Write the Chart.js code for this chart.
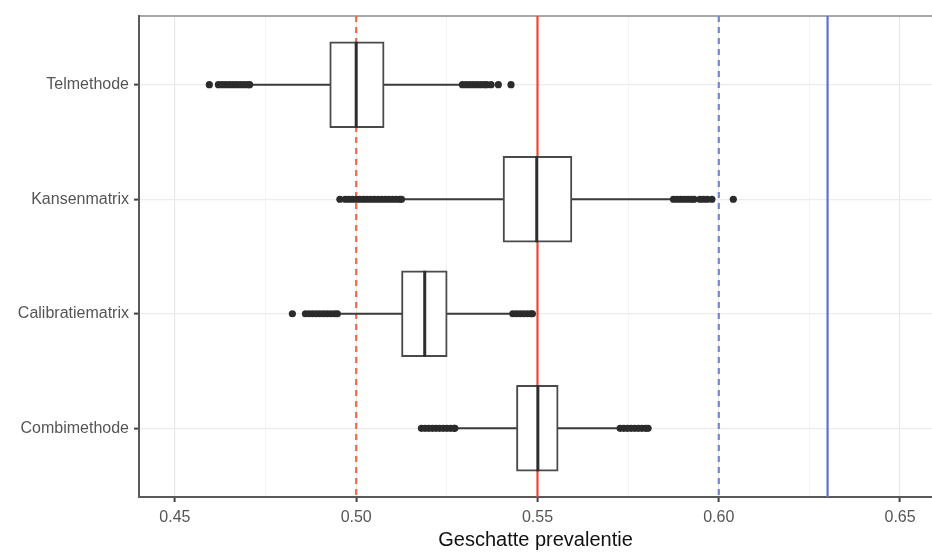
<!DOCTYPE html>
<html>
<head>
<meta charset="utf-8">
<script src="https://cdn.jsdelivr.net/npm/chart.js@4/dist/chart.umd.min.js"></script>
<style>
  body { margin: 0; background: #fff; }
  canvas { display: block; }
</style>
</head>
<body>
<canvas id="chart" width="932" height="552"></canvas>
<script>
// categorieen (van boven naar beneden)
const categories = ["Telmethode", "Kansenmatrix", "Calibratiematrix", "Combimethode"];

const whiskerLow  = [0.4712, 0.5128, 0.4952, 0.5276];
const q1          = [0.4927, 0.5405, 0.5125, 0.5442];
const medians     = [0.5000, 0.5498, 0.5189, 0.5501];
const q3          = [0.5077, 0.5595, 0.5251, 0.5557];
const whiskerHigh = [0.5288, 0.5870, 0.5428, 0.5725];

// uitschieters per categorie
const outliersTel = [0.4595, 0.4620, 0.4630, 0.4640, 0.4650, 0.4660, 0.4670, 0.4680, 0.4690, 0.4700, 0.4706,
                     0.5293, 0.5303, 0.5313, 0.5323, 0.5333, 0.5343, 0.5353, 0.5360, 0.5372, 0.5392, 0.5427];
const outliersKans = [0.4955, 0.4970, 0.4980, 0.4990, 0.5000, 0.5010, 0.5020, 0.5030, 0.5040, 0.5050, 0.5060,
                      0.5070, 0.5080, 0.5090, 0.5100, 0.5110, 0.5120, 0.5125,
                      0.5875, 0.5885, 0.5895, 0.5905, 0.5915, 0.5925, 0.5932, 0.5948, 0.5958, 0.5968, 0.5981, 0.6040];
const outliersCal = [0.4824, 0.4860, 0.4870, 0.4880, 0.4890, 0.4900, 0.4910, 0.4920, 0.4930, 0.4940, 0.4948,
                     0.5432, 0.5442, 0.5452, 0.5462, 0.5472, 0.5482, 0.5486];
const outliersComb = [0.5180, 0.5190, 0.5200, 0.5210, 0.5220, 0.5230, 0.5240, 0.5250, 0.5260, 0.5270, 0.5272,
                      0.5728, 0.5738, 0.5748, 0.5758, 0.5768, 0.5778, 0.5788, 0.5798, 0.5805];
const outliers = [outliersTel, outliersKans, outliersCal, outliersComb];

// verticale referentielijnen
const refValues = [0.50, 0.55, 0.60, 0.63];
const refColors = ["#F26A48", "#EC4A2E", "#7385D9", "#5F72CE"];
const refDashes = [[6, 5], [], [6, 5], []];

// x-as ticks
const xTicks = [0.45, 0.475, 0.50, 0.525, 0.55, 0.575, 0.60, 0.625, 0.65];
const xMajor = [0.45, 0.50, 0.55, 0.60, 0.65];

const boxHalf = 0.375;
const isMajor = v => xMajor.some(m => Math.abs(m - v) < 1e-6);

let datasets = [];

// referentielijnen (onderop)
for (let i = 0; i < refValues.length; i++) {
    datasets.push({
        type: "scatter",
        showLine: true,
        data: [{x: refValues[i], y: 0.4}, {x: refValues[i], y: 4.6}],
        borderColor: refColors[i],
        borderWidth: 2.2,
        borderDash: refDashes[i],
        pointRadius: 0,
        order: 10
    });
}

// snorharen
for (let i = 0; i < categories.length; i++) {
    datasets.push({
        type: "scatter",
        showLine: true,
        data: [{x: whiskerLow[i], y: i + 1}, {x: whiskerHigh[i], y: i + 1}],
        borderColor: "#3a3a3a",
        borderWidth: 2,
        pointRadius: 0,
        order: 8
    });
}

// dozen
datasets.push({
    type: "bar",
    indexAxis: "y",
    data: categories.map((c, i) => ({x: [q1[i], q3[i]], y: i + 1})),
    backgroundColor: "#ffffff",
    borderColor: "#4a4a4a",
    borderWidth: 2,
    borderSkipped: false,
    barThickness: 86,
    order: 6
});

// medianen
for (let i = 0; i < categories.length; i++) {
    datasets.push({
        type: "scatter",
        showLine: true,
        data: [{x: medians[i], y: i + 1 - boxHalf}, {x: medians[i], y: i + 1 + boxHalf}],
        borderColor: "#2e2e2e",
        borderWidth: 3,
        pointRadius: 0,
        order: 4
    });
}

// uitschieters
for (let i = 0; i < categories.length; i++) {
    datasets.push({
        type: "scatter",
        data: outliers[i].map(v => ({x: v, y: i + 1})),
        backgroundColor: "#2b2b2b",
        borderWidth: 0,
        pointRadius: 3.6,
        order: 2
    });
}

new Chart(document.getElementById("chart"), {
    type: "scatter",
    data: {datasets: datasets},
    options: {
        responsive: false,
        devicePixelRatio: 1,
        animation: false,
        layout: {padding: 0, autoPadding: false},
        plugins: {
            legend: {display: false},
            tooltip: {enabled: false}
        },
        scales: {
            x: {
                type: "linear",
                position: "bottom",
                min: 0.4401,
                max: 0.6588,
                offset: false,
                afterBuildTicks: s => { s.ticks = xTicks.map(v => ({value: v})); },
                afterFit: s => { s.height = 55; },
                ticks: {
                    padding: 6,
                    color: "#555555",
                    font: {family: "Liberation Sans, Arial", size: 16},
                    callback: v => isMajor(v) ? v.toFixed(2) : ""
                },
                grid: {
                    offset: false,
                    color: c => isMajor(c.tick.value) ? "#e8e8e8" : "#f1f1f1",
                    lineWidth: c => isMajor(c.tick.value) ? 1.2 : 0.8,
                    tickColor: c => isMajor(c.tick.value) ? "#444444" : "rgba(0,0,0,0)",
                    tickLength: 5,
                    tickWidth: 2
                },
                border: {color: "#5a5a5a", width: 2},
                title: {
                    display: true,
                    text: "Geschatte prevalentie",
                    color: "#111111",
                    font: {family: "Liberation Sans, Arial", size: 20},
                    padding: {top: 0, bottom: 0}
                }
            },
            x2: {
                type: "linear",
                position: "top",
                min: 0.4401,
                max: 0.6588,
                afterFit: s => { s.height = 16; },
                ticks: {display: false},
                grid: {display: false, drawTicks: false},
                border: {color: "#a8a8a8", width: 2}
            },
            y: {
                type: "linear",
                reverse: true,
                min: 0.4,
                max: 4.6,
                offset: false,
                afterBuildTicks: s => { s.ticks = categories.map((c, i) => ({value: i + 1})); },
                afterFit: s => { s.width = 139; },
                ticks: {
                    padding: 5,
                    color: "#555555",
                    font: {family: "Liberation Sans, Arial", size: 16},
                    callback: v => categories[Math.round(v) - 1]
                },
                grid: {
                    offset: false,
                    color: "#ececec",
                    lineWidth: 1.2,
                    tickColor: "#444444",
                    tickLength: 5,
                    tickWidth: 2
                },
                border: {color: "#5a5a5a", width: 2}
            }
        }
    }
});
</script>
</body>
</html>
